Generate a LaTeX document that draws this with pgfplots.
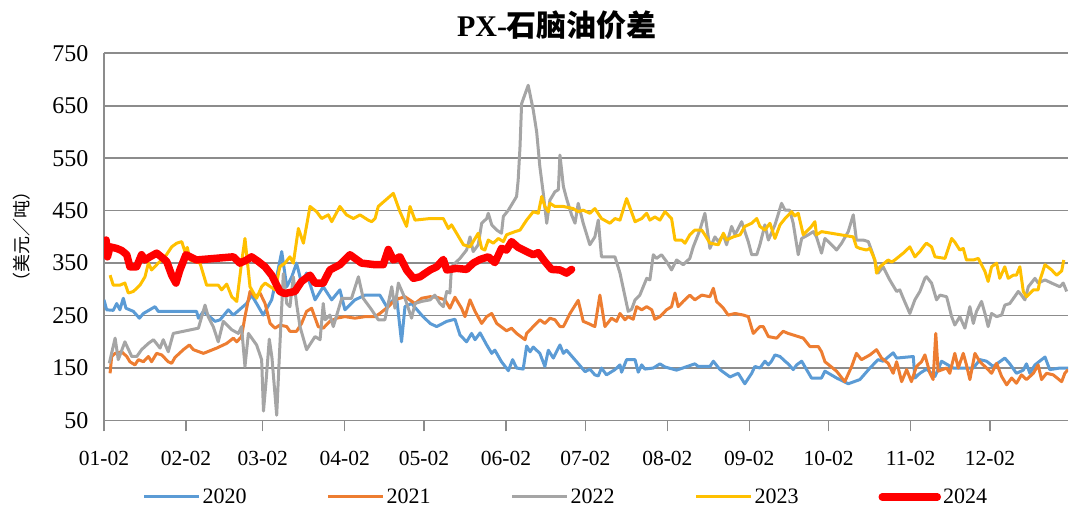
\documentclass[border=0pt]{standalone}
\usepackage{pgfplots}
\pgfplotsset{compat=1.18}
\usepackage{fontspec}
\setmainfont{Liberation Serif}
\newfontfamily\cjk{Noto Sans CJK SC}
\definecolor{c20}{HTML}{5B9BD5}
\definecolor{c21}{HTML}{ED7D31}
\definecolor{c22}{HTML}{A5A5A5}
\definecolor{c23}{HTML}{FFC000}
\definecolor{c24}{HTML}{FF0000}
\definecolor{gridc}{HTML}{8C8C8C}
\begin{document}
\begin{tikzpicture}[x=1pt,y=1pt]
\path[use as bounding box] (0,0) rectangle (1071,510);
\begin{axis}[
  at={(104pt,89.5pt)}, anchor=south west,
  scale only axis, width=964pt, height=367.2pt,
  xmin=0, xmax=364.5, ymin=50, ymax=750,
  axis x line*=bottom, axis y line*=left,
  axis line style={draw=gridc, line width=1.6pt},
  ytick={50,150,...,750},
  xtick={0,31,60,91,121,152,182,213,244,274,305,335},
  xticklabels={01-02,02-02,03-02,04-02,05-02,06-02,07-02,08-02,09-02,10-02,11-02,12-02},
  tick align=outside, major tick length=11pt,
  xtick style={draw=gridc, line width=1.4pt},
  ytick style={draw=none},
  ymajorgrids, grid style={draw=gridc, line width=1.6pt},
  /pgf/number format/assume math mode=true,
  xticklabel style={font=\fontsize{21.5}{24}\selectfont, yshift=-16pt},
  yticklabel style={font=\fontsize{24}{26}\selectfont, xshift=-1pt},
  line join=round,
  legend columns=5,
  legend style={at={(0.479,-0.208)}, anchor=center, draw=none, fill=none,
    font=\fontsize{22}{24}\selectfont,
    /tikz/every even column/.append style={column sep=78pt}},
  legend image code/.code={\draw[#1] (0pt,0pt) -- (55pt,0pt);},
]
\addplot[c20, line width=3pt] coordinates {(0,280)(1.0,261)(3.5,260)(4.8,273)(6.0,261)(7.3,283)(8.3,264)(11.1,258)(13.4,245)(14.9,254)(19.3,267)(20.5,258)(35.0,258)(35.7,245)(37.6,258)(42.0,239)(43.9,242)(47.0,261)(48.9,251)(53.9,273)(55.8,289)(57.7,273)(60.2,251)(63.4,280)(65.3,324)(67.2,372)(69.1,305)(71.0,324)(72.8,350)(74.7,312)(76.6,331)(79.8,280)(82.9,305)(86.1,280)(89.2,299)(91.1,261)(94.9,280)(98.7,289)(104.3,289)(106.9,267)(110.6,286)(112.5,200)(113.8,267)(116.3,273)(120.1,251)(123.3,235)(125.8,229)(129.6,239)(132.7,243)(134.6,213)(137.1,200)(139.0,216)(140.3,204)(142.2,217)(144.7,194)(146.6,178)(147.8,184)(150.3,162)(152.9,145)(154.5,166)(156.0,150)(158.5,148)(159.8,192)(161.1,181)(162.3,190)(164.8,178)(166.7,153)(168.0,184)(169.9,169)(172.4,194)(173.7,178)(174.9,184)(178.7,162)(181.9,143)(183.7,148)(185.6,137)(186.9,135)(188.1,150)(190.0,137)(193.2,147)(195.1,156)(195.7,142)(197.6,166)(200.8,166)(202.0,142)(203.3,156)(204.5,148)(207.7,150)(210.2,158)(212.1,152)(216.5,146)(223.4,158)(224.7,153)(229.1,153)(230.4,163)(232.9,147)(236.7,133)(239.8,140)(242.3,120)(244.9,140)(246.1,153)(248.0,150)(249.9,163)(251.2,156)(252.4,163)(253.7,175)(255.6,172)(257.5,163)(258.7,158)(260.6,147)(261.9,156)(263.8,163)(267.5,131)(271.3,131)(272.6,144)(277.0,131)(281.4,120)(285.8,128)(289.6,150)(292.7,166)(294.6,163)(298.4,179)(299.7,169)(306.0,172)(306.6,131)(308.5,140)(311.0,148)(314.2,134)(316.7,163)(321.1,150)(328.7,150)(331.2,166)(333.7,163)(336.2,153)(340.6,169)(342.5,158)(345.0,140)(347.6,146)(348.8,158)(350.1,140)(352.0,156)(355.8,171)(357.6,147)(361.4,150)(364.5,150)};
\addlegendentry{2020}
\addplot[c21, line width=3pt] coordinates {(2.3,140)(2.9,172)(4.2,178)(6.7,181)(8.6,172)(9.8,162)(11.7,156)(13.0,166)(14.9,162)(16.8,172)(18.0,162)(19.9,178)(21.8,175)(24.3,162)(25.6,159)(26.8,170)(30.0,185)(32.3,194)(33.8,185)(37.6,178)(42.6,188)(46.4,197)(48.9,207)(50.2,200)(52.0,210)(53.3,248)(55.2,296)(57.1,286)(59.0,293)(60.9,273)(62.8,235)(64.7,226)(66.5,232)(69.1,229)(70.3,220)(72.8,220)(74.7,235)(76.6,258)(78.5,264)(81.0,229)(82.9,226)(85.4,239)(88.0,245)(91.1,248)(94.9,245)(98.7,248)(102.5,248)(104.3,254)(107.5,267)(110.0,280)(113.8,286)(117.6,273)(120.1,283)(123.3,286)(125.8,285)(128.9,280)(130.8,264)(132.7,285)(135.2,264)(136.5,248)(138.4,280)(140.3,258)(142.8,235)(144.7,248)(146.6,254)(148.5,235)(152.2,221)(154.1,226)(156.0,216)(159.2,204)(159.8,216)(162.3,229)(164.8,242)(166.7,235)(168.6,245)(170.5,242)(172.4,229)(173.7,229)(176.2,254)(179.3,279)(181.2,239)(183.1,235)(185.6,229)(187.5,289)(189.4,229)(191.9,245)(193.8,239)(195.1,254)(197.0,242)(198.2,248)(200.1,243)(201.4,267)(203.3,261)(205.2,267)(207.1,261)(208.3,243)(210.2,248)(212.7,261)(214.6,267)(215.9,293)(217.1,267)(219.0,277)(221.5,289)(223.4,280)(226.0,289)(229.1,286)(230.4,302)(231.6,277)(234.2,264)(236.0,251)(238.6,254)(241.7,251)(243.6,248)(245.5,216)(248.0,229)(249.3,229)(251.2,210)(254.3,207)(256.8,220)(258.7,216)(260.6,213)(264.4,207)(266.9,191)(270.1,191)(271.3,181)(272.6,162)(277.0,144)(280.1,124)(282.7,153)(284.5,178)(286.4,166)(289.6,175)(292.1,185)(294.0,169)(296.5,159)(298.4,140)(299.7,162)(301.6,124)(303.5,147)(305.3,124)(307.2,153)(309.1,162)(310.4,175)(312.3,140)(313.5,128)(314.5,216)(315.4,144)(318.6,150)(319.8,140)(321.7,178)(323.0,150)(324.9,178)(326.1,156)(327.4,128)(329.3,178)(331.2,162)(333.7,150)(335.6,140)(337.5,159)(339.4,134)(341.3,118)(343.2,131)(345.0,121)(346.9,137)(348.8,128)(351.4,140)(353.2,156)(354.5,128)(356.4,140)(358.9,137)(362.1,124)(363.3,140)(364.5,147)};
\addlegendentry{2021}
\addplot[c22, line width=3pt] coordinates {(2.0,159)(4.2,207)(5.4,166)(7.9,200)(10.5,172)(12.4,172)(14.2,185)(16.8,197)(18.7,204)(21.2,188)(22.4,204)(24.3,181)(26.2,216)(35.7,226)(38.2,270)(39.4,248)(41.3,229)(43.2,200)(45.1,239)(48.3,223)(50.8,216)(52.0,229)(53.3,153)(54.6,216)(57.7,194)(59.6,166)(60.3,68)(61.2,120)(62.5,205)(63.5,170)(65.3,60)(66.3,172)(67.8,330)(69.1,273)(70.3,267)(71.6,324)(72.8,273)(74.1,229)(76.6,185)(79.8,210)(81.7,204)(82.9,273)(83.6,242)(85.4,251)(86.7,229)(89.9,283)(93.6,283)(96.2,324)(98.0,283)(101.2,261)(103.7,242)(106.2,242)(108.8,305)(110.0,264)(111.3,312)(113.8,283)(116.3,245)(117.6,273)(120.1,277)(123.3,280)(125.1,289)(127.0,273)(128.3,267)(129.6,296)(130.8,293)(131.4,343)(134.6,359)(137.1,375)(138.4,400)(139.6,372)(141.5,385)(142.8,426)(144.7,435)(145.3,445)(146.6,423)(148.5,413)(150.3,407)(151.0,439)(152.9,451)(156.0,477)(156.6,508)(157.3,572)(157.9,654)(160.4,689)(162.3,642)(163.6,600)(164.8,534)(166.1,483)(167.4,426)(168.6,470)(170.5,486)(171.8,490)(172.4,556)(173.7,496)(174.9,473)(176.8,442)(178.1,426)(179.3,464)(181.2,426)(183.7,385)(185.6,400)(186.9,432)(188.1,362)(193.2,362)(195.1,331)(198.2,258)(199.5,262)(200.8,280)(202.6,289)(205.2,321)(206.4,318)(207.7,366)(208.9,359)(210.8,366)(212.7,353)(214.6,337)(216.5,356)(219.0,347)(221.5,359)(222.8,381)(225.3,413)(227.2,445)(229.1,378)(231.0,400)(232.3,391)(234.2,404)(235.4,385)(237.3,420)(238.6,404)(241.1,429)(243.6,391)(244.9,366)(246.8,366)(248.0,385)(249.9,423)(251.2,394)(253.7,423)(256.2,464)(257.5,451)(259.3,451)(260.6,426)(262.5,366)(263.8,397)(266.3,404)(268.2,410)(269.4,400)(271.3,369)(272.6,397)(274.5,388)(277.0,375)(278.9,388)(281.4,410)(283.3,442)(284.5,394)(287.1,394)(289.0,391)(290.8,366)(292.7,331)(294.6,343)(297.1,318)(299.7,296)(300.9,299)(302.2,283)(304.7,254)(306.6,280)(308.5,296)(310.4,321)(311.0,324)(312.9,312)(314.8,280)(316.1,289)(318.6,286)(320.5,248)(321.7,232)(323.6,248)(325.5,226)(327.4,267)(328.7,235)(329.9,258)(331.8,277)(333.1,254)(334.3,229)(335.6,254)(337.5,248)(339.4,251)(340.6,270)(342.5,273)(345.7,296)(346.9,289)(348.2,280)(349.5,305)(352.0,321)(353.2,312)(355.8,318)(358.3,312)(361.4,305)(362.7,312)(364.0,296)};
\addlegendentry{2022}
\addplot[c23, line width=3pt] coordinates {(2.3,327)(3.5,308)(6.0,308)(7.9,312)(9.2,293)(11.1,296)(13.6,308)(15.5,324)(16.8,350)(18.0,337)(20.5,350)(23.1,362)(25.6,381)(27.5,388)(29.4,391)(30.6,372)(31.5,380)(32.5,356)(36.3,350)(38.8,308)(43.2,308)(44.5,299)(46.4,310)(48.3,286)(50.2,277)(52.0,350)(53.3,397)(55.2,305)(57.7,283)(59.6,305)(60.9,312)(64.7,299)(66.5,343)(68.4,350)(70.3,362)(71.6,350)(73.5,416)(75.4,388)(77.9,458)(80.4,448)(82.3,435)(84.8,442)(86.1,429)(89.2,458)(91.7,442)(94.3,435)(96.8,442)(99.9,432)(101.2,429)(102.5,435)(103.7,458)(109.4,483)(111.9,448)(114.4,420)(115.7,458)(117.6,432)(123.3,435)(128.3,435)(130.2,416)(131.4,423)(133.3,407)(135.9,385)(138.4,381)(139.6,391)(141.5,407)(142.8,378)(144.0,375)(145.3,394)(147.2,388)(149.1,397)(151.0,391)(152.2,404)(155.4,410)(157.3,413)(159.8,432)(162.3,448)(164.2,445)(165.5,477)(166.7,458)(168.0,448)(168.6,464)(170.5,458)(173.7,458)(177.4,454)(179.3,448)(181.2,451)(183.7,445)(185.6,454)(188.1,435)(191.3,426)(193.2,435)(195.1,432)(197.6,473)(200.8,429)(203.3,435)(205.2,445)(206.4,432)(208.3,438)(210.2,432)(212.1,448)(214.6,435)(215.9,394)(218.4,394)(219.7,388)(221.5,404)(223.4,413)(226.0,413)(227.2,404)(229.1,388)(232.3,385)(234.2,407)(235.4,394)(237.9,400)(240.5,404)(242.3,420)(244.9,426)(246.8,435)(248.0,420)(249.9,413)(251.8,426)(253.7,397)(255.6,423)(257.5,435)(260.0,448)(261.2,440)(262.5,445)(264.4,404)(265.6,410)(267.5,420)(268.8,429)(269.4,404)(271.3,410)(283.3,400)(284.5,381)(285.8,378)(288.3,375)(289.6,378)(291.5,356)(292.1,331)(293.4,343)(296.5,356)(297.8,352)(299.0,356)(302.2,369)(304.7,381)(306.6,362)(308.5,372)(310.4,385)(311.0,388)(312.9,381)(314.2,362)(318.0,359)(320.5,397)(321.7,390)(323.6,375)(324.9,378)(326.1,356)(328.7,356)(330.6,359)(333.1,334)(334.3,315)(335.6,343)(337.5,350)(338.7,321)(340.6,343)(341.9,321)(343.8,327)(345.0,327)(346.3,343)(347.6,296)(348.8,286)(351.4,299)(353.2,299)(353.9,318)(355.8,347)(358.3,337)(360.2,327)(362.1,335)(362.9,356)};
\addlegendentry{2023}
\addplot[c24, line width=7.5pt, line cap=round] coordinates {(0,380)(0.8,394)(1.3,362)(2.3,381)(4.8,378)(6.7,374)(8.6,366)(9.8,343)(12.3,343)(14.2,366)(15.5,356)(17.4,362)(19.9,369)(22.4,359)(23.7,353)(25.6,327)(27.2,312)(28.7,337)(31.0,366)(35.0,356)(48.9,362)(51.4,350)(53.9,356)(55.8,362)(58.4,353)(60.9,343)(63.4,327)(66.5,296)(68.4,292)(72.2,296)(74.7,315)(77.9,327)(79.8,312)(82.9,312)(85.4,337)(89.2,347)(93.0,366)(97.4,350)(102.5,347)(105.6,347)(107.5,376)(109.4,356)(111.9,362)(114.4,337)(117.0,321)(119.5,324)(123.3,337)(125.8,343)(128.3,357)(129.6,337)(133.3,340)(137.1,338)(139.6,350)(142.2,357)(145.3,362)(147.8,351)(150.3,378)(152.2,375)(154.1,391)(156.6,380)(159.8,372)(162.3,366)(164.2,370)(166.7,353)(169.2,338)(172.4,337)(174.9,331)(176.8,338)};
\addlegendentry{2024}
\end{axis}
\node[font=\fontsize{30}{34}\selectfont\bfseries] at (557,485) {PX-{\cjk\bfseries 石脑油价差}};
\node[rotate=90, font=\cjk\fontsize{18}{20}\selectfont] at (22,273) {（美元／吨）};
\end{tikzpicture}
\end{document}
